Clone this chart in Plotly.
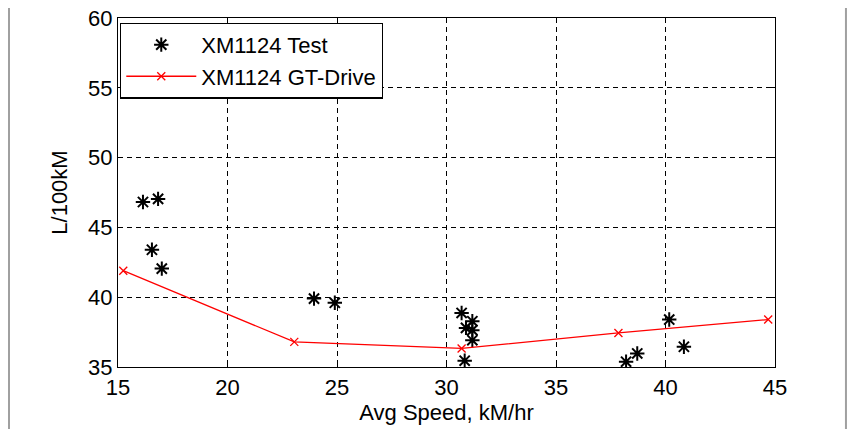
import plotly.graph_objects as go

test_x = [16.14, 16.83, 16.55, 17.0, 23.95, 24.9, 30.69, 31.18, 30.89, 31.18, 31.18, 30.83, 38.2, 38.71, 40.17, 40.84]
test_y = [46.82, 47.04, 43.4, 42.05, 39.9, 39.6, 38.87, 38.28, 37.8, 37.64, 36.92, 35.45, 35.38, 35.97, 38.4, 36.45]

gt_x = [15.24, 23.05, 30.69, 37.85, 44.69]
gt_y = [41.9, 36.8, 36.33, 37.44, 38.4]

x_ticks = [15, 20, 25, 30, 35, 40, 45]
y_ticks = [35, 40, 45, 50, 55, 60]

FONT = "Liberation Sans, Arial, sans-serif"
FS = 22

fig = go.Figure()
fig.add_trace(go.Scatter(
    x=test_x, y=test_y, mode="markers", name="XM1124 Test",
    marker=dict(symbol="asterisk-open", size=12, color="black",
                line=dict(color="black", width=2)),
))
fig.add_trace(go.Scatter(
    x=gt_x, y=gt_y, mode="lines+markers", name="XM1124 GT-Drive",
    line=dict(color="red", width=1.3),
    marker=dict(symbol="x-thin-open", size=8, color="red",
                line=dict(color="red", width=1.3)),
))

axis_common = dict(
    showline=True, linecolor="black", linewidth=1.3, mirror="allticks",
    ticks="inside", ticklen=5, tickcolor="black",
    showgrid=True, gridcolor="black", griddash="5px,4px", gridwidth=1.2,
    zeroline=False, automargin=False, ticklabeloverflow="allow",
    tickfont=dict(family=FONT, size=FS, color="black"),
)

fig.update_xaxes(range=[15, 45], tickvals=x_ticks,
                 title=dict(text="Avg Speed, kM/hr", font=dict(family=FONT, size=FS, color="black"), standoff=2),
                 **axis_common)
fig.update_yaxes(range=[35, 60], tickvals=y_ticks,
                 title=dict(text="L/100kM", font=dict(family=FONT, size=FS, color="black"), standoff=14),
                 **axis_common)

fig.update_layout(
    width=848, height=421,
    margin=dict(l=110, r=81, t=10, b=62),
    plot_bgcolor="white", paper_bgcolor="white",
    font=dict(family=FONT, size=FS, color="black"),
    showlegend=True,
    legend=dict(x=0.003, y=0.987, xanchor="left", yanchor="top",
                bordercolor="black", borderwidth=1.3, bgcolor="white",
                itemwidth=70, font=dict(family=FONT, size=FS, color="black"),
                tracegroupgap=0),
    shapes=[
        dict(type="line", xref="paper", yref="paper", x0=-0.1659, x1=-0.1659, y0=-0.2, y1=1.1,
             line=dict(color="#a0a0a0", width=2)),
        dict(type="line", xref="paper", yref="paper", x0=1.108, x1=1.108, y0=-0.2, y1=1.1,
             line=dict(color="#a0a0a0", width=2)),
    ],
)

fig.write_html("out.html")
